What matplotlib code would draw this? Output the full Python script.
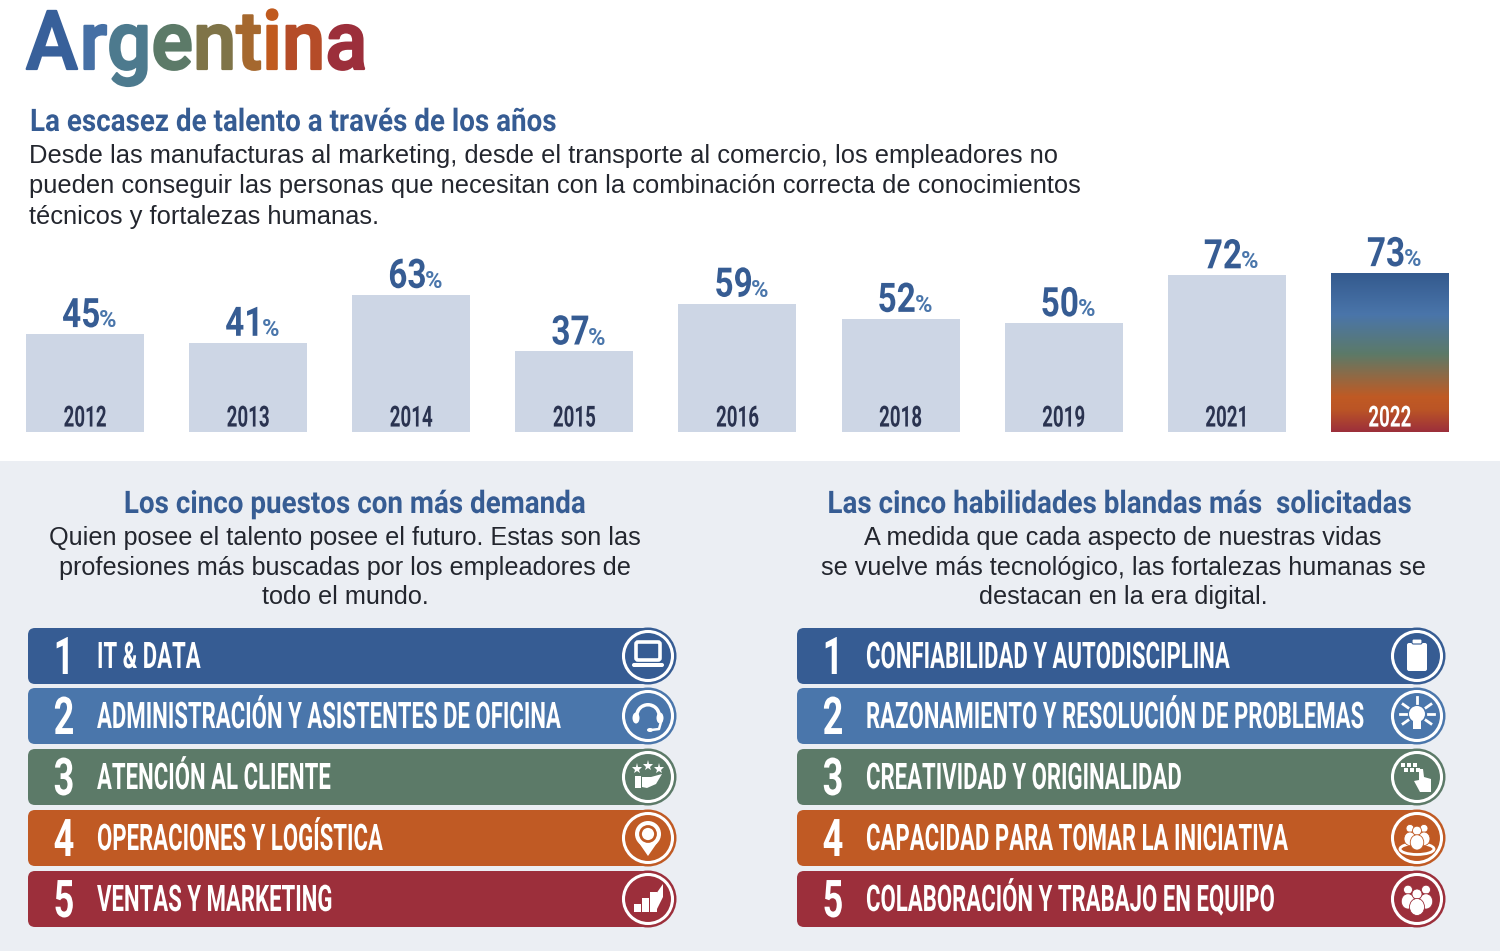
import numpy as np
import matplotlib
matplotlib.use("Agg")
import matplotlib.pyplot as plt
from matplotlib.colors import LinearSegmentedColormap
from matplotlib.patches import Circle, FancyBboxPatch, Polygon, Rectangle, Wedge, Ellipse
from matplotlib.patheffects import AbstractPathEffect
from matplotlib.transforms import Affine2D

years = ["2012", "2013", "2014", "2015", "2016", "2018", "2019", "2021", "2022"]
shortage = [45, 41, 63, 37, 59, 52, 50, 72, 73]
jobs = ["IT & DATA", "ADMINISTRACIÓN Y ASISTENTES DE OFICINA", "ATENCIÓN AL CLIENTE",
        "OPERACIONES Y LOGÍSTICA", "VENTAS Y MARKETING"]
skills = ["CONFIABILIDAD Y AUTODISCIPLINA", "RAZONAMIENTO Y RESOLUCIÓN DE PROBLEMAS",
          "CREATIVIDAD Y ORIGINALIDAD", "CAPACIDAD PARA TOMAR LA INICIATIVA",
          "COLABORACIÓN Y TRABAJO EN EQUIPO"]
band_colors = ["#365c93", "#4a76ab", "#5c7a68", "#c05a24", "#9c2f3b"]
title_colors = ["#38609a", "#4670a5", "#4d7a8e", "#5c7a68", "#7f7448", "#a5682e", "#c05a1e", "#b54c28", "#9c2f3b"]

BLUE = "#365c93"
BODY = "#23262e"


class Tall(AbstractPathEffect):
    # stretches glyphs upward from the baseline, the reference font is very condensed
    def __init__(self, sy, bold=0):
        super().__init__()
        self.sy = sy
        self.bold = bold

    def draw_path(self, renderer, gc, tpath, affine, rgbFace=None):
        gc0 = renderer.new_gc()
        gc0.copy_properties(gc)
        if self.bold:
            gc0.set_linewidth(self.bold)
            gc0.set_foreground(rgbFace)
        renderer.draw_path(gc0, tpath, Affine2D().scale(1, self.sy) + affine, rgbFace)
        gc0.restore()


fig = plt.figure(figsize=(15, 9.51), dpi=100)

# page layer in pixels
ax = fig.add_axes([0, 0, 1, 1])
ax.set_xlim(0, 1500)
ax.set_ylim(951, 0)
ax.axis("off")
ax.add_patch(Rectangle((0, 461), 1500, 490, color="#ebeef3", lw=0))

# bar layer, baseline at y=432 px
ax_bar = fig.add_axes([0, (951 - 432) / 951, 1, 192 / 951])
x = np.arange(len(years))
bars = ax_bar.bar(x, shortage, width=118 / 163.1, color="#cdd6e5")

grad = LinearSegmentedColormap.from_list("g", [(0, "#345a8e"), (0.26, "#4a75aa"), (0.51, "#5c7a68"),
                                               (0.78, "#c05a24"), (0.86, "#bb5526"), (1, "#9c2f3b")])
last = bars[-1]
last.set_facecolor("none")
ax_bar.imshow(np.linspace(0, 1, 256).reshape(-1, 1), cmap=grad, aspect="auto", zorder=2, interpolation="bilinear",
              extent=(last.get_x(), last.get_x() + last.get_width(), 0, last.get_height()))
ax_bar.set_xlim(-85 / 163.1, (1500 - 85) / 163.1)
ax_bar.set_ylim(0, 88.2)
ax_bar.axis("off")
ax_bar.patch.set_alpha(0)

for i, (yr, v) in enumerate(zip(years, shortage)):
    ax_bar.text(i, 2.5, yr, ha="center", va="baseline", family="Roboto", weight="bold", fontsize=13.5,
                color="white" if yr == "2022" else "#2a3350", zorder=3, path_effects=[Tall(1.55)])
    ax_bar.annotate(str(v), (i, v), xytext=(-16.5, 5), textcoords="offset points", ha="left", va="baseline",
                    family="Roboto", weight="bold", fontsize=24, color=BLUE, path_effects=[Tall(1.22)])
    ax_bar.annotate("%", (i, v), xytext=(10, 5), textcoords="offset points", ha="left", va="baseline",
                    family="Roboto", weight="bold", fontsize=17, color="#4a76ab")

# title, one colour per letter, placed from the width of the text before it
fig.canvas.draw()
rend = fig.canvas.get_renderer()
word = "Argentina"
for n, col in enumerate(title_colors):
    t = ax.text(26, 69, word[n], family="Roboto", weight="medium", fontsize=56, color=col, ha="left",
                va="baseline", path_effects=[Tall(1.05, bold=1.6)], zorder=10 - n)
    if n > 0:
        probe = ax.text(26, 69, word[:n], family="Roboto", weight="medium", fontsize=56)
        t.set_x(26 + probe.get_window_extent(rend).width + 2)
        probe.remove()

ax.text(30, 131, "La escasez de talento a través de los años", family="Roboto", weight="bold",
        fontsize=20, color=BLUE, va="baseline", path_effects=[Tall(1.12)])
for yy, line in zip([163, 193, 224], ["Desde las manufacturas al marketing, desde el transporte al comercio, los empleadores no",
                                      "pueden conseguir las personas que necesitan con la combinación correcta de conocimientos",
                                      "técnicos y fortalezas humanas."]):
    ax.text(29, yy, line, family="Liberation Sans", fontsize=18.35, color=BODY, va="baseline")

ax.text(354, 513, "Los cinco puestos con más demanda", family="Roboto", weight="bold", fontsize=20,
        color=BLUE, ha="center", va="baseline", path_effects=[Tall(1.12)])
for yy, line in zip([545, 575, 604], ["Quien posee el talento posee el futuro. Estas son las",
                                      "profesiones más buscadas por los empleadores de", "todo el mundo."]):
    ax.text(345, yy, line, family="Liberation Sans", fontsize=18.2, color=BODY, ha="center", va="baseline")

ax.text(1118.5, 513, "Las cinco habilidades blandas más  solicitadas", family="Roboto", weight="bold", fontsize=20,
        color=BLUE, ha="center", va="baseline", path_effects=[Tall(1.12)])
for yy, line in zip([545, 575, 604], ["A medida que cada aspecto de nuestras vidas",
                                      "se vuelve más tecnológico, las fortalezas humanas se",
                                      "destacan en la era digital."]):
    ax.text(1123, yy, line, family="Liberation Sans", fontsize=18.2, color=BODY, ha="center", va="baseline")


def icon_laptop(cx, cy):
    ax.add_patch(FancyBboxPatch((cx - 12, cy - 14), 24, 18, boxstyle="round,pad=0,rounding_size=2", fc="none", ec="white", lw=2.6, zorder=6))
    ax.add_patch(FancyBboxPatch((cx - 16, cy + 7), 32, 4, boxstyle="round,pad=0,rounding_size=2", fc="white", ec="none", zorder=6))


def icon_headset(cx, cy):
    ax.add_patch(Wedge((cx, cy), 13, 180, 360, width=3.5, fc="white", ec="none", zorder=6))
    ax.add_patch(Ellipse((cx - 12, cy + 2), 7, 11, fc="white", ec="none", zorder=6))
    ax.add_patch(Ellipse((cx + 12, cy + 2), 7, 11, fc="white", ec="none", zorder=6))
    ax.add_patch(Ellipse((cx + 2, cy + 14), 6, 4, fc="white", ec="none", zorder=6))
    ax.plot([cx + 13, cx + 11, cx + 3], [cy + 6, cy + 13, cy + 14], color="white", lw=1.8, zorder=6)


def icon_hand(cx, cy):
    ax.plot([cx - 11, cx, cx + 11], [cy - 8, cy - 11, cy - 8], ls="", marker="*", color="white", ms=8, mew=0, zorder=6)
    ax.add_patch(Rectangle((cx - 13, cy - 1), 6, 12, fc="white", ec="none", zorder=6))
    ax.add_patch(Polygon([(cx - 6, cy), (cx + 3, cy), (cx + 14, cy - 3), (cx + 8, cy + 7), (cx - 1, cy + 11), (cx - 6, cy + 10)],
                         fc="white", ec="none", zorder=6))


def icon_pin(cx, cy):
    ax.add_patch(Circle((cx, cy - 4), 13, fc="white", ec="none", zorder=6))
    ax.add_patch(Polygon([(cx - 9, cy + 5), (cx + 9, cy + 5), (cx, cy + 18)], fc="white", ec="none", zorder=6))
    ax.add_patch(Circle((cx, cy - 4), 7.5, fc="none", ec="#c05a24", lw=2, zorder=7))


def icon_growth(cx, cy):
    for dx, h in zip([-14, -6, 2], [8, 14, 20]):
        ax.add_patch(Rectangle((cx + dx, cy + 13 - h), 7, h, fc="white", ec="none", zorder=6))
    ax.add_patch(Polygon([(cx + 3, cy + 2), (cx + 15, cy - 15), (cx + 15, cy - 2), (cx + 9, cy + 10)], fc="white", ec="none", zorder=6))


def icon_clipboard(cx, cy):
    ax.add_patch(FancyBboxPatch((cx - 10, cy - 13), 20, 28, boxstyle="round,pad=0,rounding_size=2", fc="white", ec="none", zorder=6))
    ax.add_patch(FancyBboxPatch((cx - 5, cy - 17), 10, 5, boxstyle="round,pad=0,rounding_size=1.5", fc="white", ec="#365c93", lw=0.8, zorder=7))


def icon_bulb(cx, cy):
    ax.add_patch(Circle((cx, cy - 2), 8, fc="white", ec="none", zorder=6))
    ax.add_patch(Rectangle((cx - 4, cy + 5), 8, 8, fc="white", ec="none", zorder=6))
    for a in [0, 35, 90, 145, 180, 215, 325]:
        r = np.radians(a)
        ax.plot([cx + 11 * np.cos(r), cx + 17 * np.cos(r)], [cy - 2 - 11 * np.sin(r), cy - 2 - 17 * np.sin(r)],
                color="white", lw=2, zorder=6)


def icon_touch(cx, cy):
    ax.plot([cx - 14, cx - 8, cx - 2, cx - 11, cx - 5, cx + 1], [cy - 12, cy - 12, cy - 12, cy - 7, cy - 7, cy - 7],
            ls="", marker="s", ms=3, color="white", mew=0, zorder=6)
    ax.add_patch(Polygon([(cx + 2, cy - 8), (cx + 6, cy - 8), (cx + 7, cy), (cx + 14, cy + 2), (cx + 14, cy + 15),
                          (cx + 3, cy + 15), (cx - 3, cy + 4), (cx + 2, cy + 3)], fc="white", ec="none", zorder=6))


def people(cx, cy, offsets, col):
    for dx, dy, s in offsets:
        ax.add_patch(Circle((cx + dx, cy + dy - 7 * s), 5 * s, fc="white", ec=col, lw=0.6, zorder=6))
        ax.add_patch(Ellipse((cx + dx, cy + dy + 6 * s), 15 * s, 17 * s, fc="white", ec=col, lw=0.6, zorder=6))


def icon_leader(cx, cy):
    ax.add_patch(Ellipse((cx, cy + 11), 34, 11, fc="none", ec="white", lw=2, zorder=6))
    people(cx, cy - 2, [(-7, -2, 0.8), (7, -2, 0.8), (0, 1, 0.9)], "#c05a24")


def icon_team(cx, cy):
    people(cx, cy, [(-9, -3, 0.9), (9, -3, 0.9), (0, 2, 1.0)], "#9c2f3b")


tops = [628, 688, 749, 810, 871]
BAND_H = 56

# font size that makes the longest label as wide as in the reference
probe = ax.text(0, 0, jobs[1], family="Roboto", weight="bold", fontsize=20)
LABEL_SIZE = 20 * 463 / probe.get_window_extent(rend).width
probe.remove()
LABEL_STRETCH = 26 / (0.711 * LABEL_SIZE * 100 / 72)


def draw_bands(x0, x1, labels, icons):
    for i, (label, top, col, icon) in enumerate(zip(labels, tops, band_colors, icons)):
        cy = top + BAND_H / 2
        ax.add_patch(FancyBboxPatch((x0, top), x1 - x0 - 28, BAND_H, boxstyle="round,pad=0,rounding_size=7",
                                    fc=col, ec="none", zorder=3))
        ax.add_patch(Rectangle((x1 - 60, top), 32, BAND_H, fc=col, ec="none", zorder=3))
        ax.add_patch(Circle((x1 - 28, cy), 28.5, fc=col, ec="none", zorder=3))
        ax.add_patch(Circle((x1 - 28, cy), 24.5, fc="none", ec="white", lw=2.2, zorder=5))
        icon(x1 - 28, cy)
        ax.text(x0 + 36, top + 46, str(i + 1), family="Roboto", weight="bold", fontsize=26, color="white",
                ha="center", va="baseline", zorder=5, path_effects=[Tall(1.44)])
        ax.text(x0 + 69, top + 40, label, family="Roboto", weight="bold", fontsize=LABEL_SIZE, color="white",
                ha="left", va="baseline", zorder=5, path_effects=[Tall(LABEL_STRETCH)])


draw_bands(28, 676, jobs, [icon_laptop, icon_headset, icon_hand, icon_pin, icon_growth])
draw_bands(797, 1445, skills, [icon_clipboard, icon_bulb, icon_touch, icon_leader, icon_team])

fig.savefig("out.png", dpi=100)
